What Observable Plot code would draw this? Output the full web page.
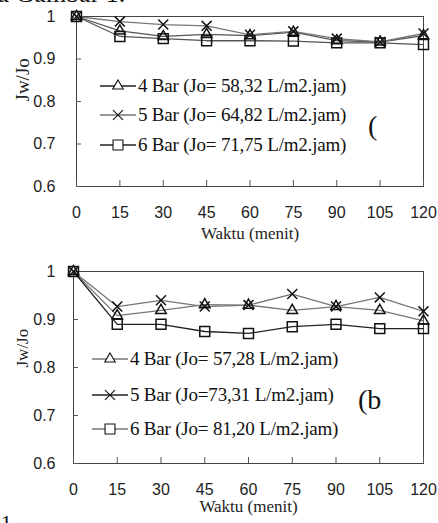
<!DOCTYPE html>
<html>
<head>
<meta charset="utf-8">
<script src="https://cdn.jsdelivr.net/npm/d3@7"></script>
<script src="https://cdn.jsdelivr.net/npm/@observablehq/plot@0.6"></script>
<style>
  html, body { margin: 0; padding: 0; background: #fff; width: 438px; height: 523px; overflow: hidden; }
  .panel { position: relative; width: 438px; }
  .panel svg.plot { display: block; }
  .legrow { position: absolute; display: flex; align-items: center; height: 24px; transform: translateY(-50%);
            font-family: "Liberation Serif", "Times New Roman", serif; font-size: 19px; color: #111; white-space: nowrap; letter-spacing: -0.2px; }
  .legrow svg { display: block; flex: none; }
  .note { position: absolute; font-family: "Liberation Serif", "Times New Roman", serif; color: #111; line-height: 1; white-space: nowrap; }
</style>
</head>
<body>
<div id="root" style="position:relative;width:438px;height:523px;overflow:hidden;"></div>
<script>
// ---- data ----
const minutes = [0, 15, 30, 45, 60, 75, 90, 105, 120];
const xTicks = [0, 15, 30, 45, 60, 75, 90, 105, 120];
const yTicks = [0.6, 0.7, 0.8, 0.9, 1];

const seriesNames = ["4 Bar", "5 Bar", "6 Bar"];
const seriesSymbols = ["triangle", "times", "square"];

// panel (a) – top
const topBar4 = [1, 0.966, 0.953, 0.958, 0.955, 0.963, 0.943, 0.940, 0.955];
const topBar5 = [1, 0.988, 0.981, 0.978, 0.957, 0.965, 0.948, 0.940, 0.960];
const topBar6 = [1, 0.953, 0.948, 0.943, 0.943, 0.942, 0.938, 0.938, 0.934];
const topLabels = ["4 Bar (Jo= 58,32 L/m2.jam)", "5 Bar (Jo= 64,82 L/m2.jam)", "6 Bar (Jo= 71,75 L/m2.jam)"];

// panel (b) – bottom
const botBar4 = [1, 0.908, 0.919, 0.931, 0.930, 0.919, 0.927, 0.919, 0.897];
const botBar5 = [1, 0.927, 0.940, 0.927, 0.930, 0.953, 0.927, 0.946, 0.917];
const botBar6 = [1, 0.890, 0.890, 0.875, 0.871, 0.885, 0.890, 0.881, 0.881];
const botLabels = ["4 Bar (Jo= 57,28 L/m2.jam)", "5 Bar (Jo=73,31 L/m2.jam)", "6 Bar (Jo= 81,20 L/m2.jam)"];

const xTitle = "Waktu (menit)";
const yTitle = "Jw/Jo";

// ---- styling ----
const serif = "'Liberation Serif', 'Times New Roman', serif";
const sans = "'Liberation Sans', Arial, sans-serif";
const symbolR = {triangle: 3.9, times: 4.6, square: 5.6};
const d3Sym = {triangle: d3.symbolTriangle, times: d3.symbolTimes, square: d3.symbolSquare};

function makeRows(vals) {
  return minutes.map((m, i) => ({minute: m, value: vals[i]}));
}

function panel(cfg) {
  const marks = [
    Plot.frame({stroke: "#444", strokeWidth: 1}),
    Plot.axisX({ticks: xTicks, tickSize: -6, fill: "none", stroke: "#555", label: null}),
    Plot.axisY({ticks: yTicks, tickSize: -5, fill: "none", stroke: "#555", label: null}),
    Plot.axisX({ticks: xTicks, tickSize: 0, tickPadding: cfg.xPad, label: null,
      fontFamily: sans, fontSize: 16, fill: "#222"}),
    Plot.axisY({ticks: yTicks, tickSize: 0, tickPadding: cfg.yPad, label: null,
      tickFormat: d => d === 1 ? "1" : d.toFixed(1),
      fontFamily: sans, fontSize: 16, fill: "#222"}),
    Plot.text([xTitle], {frameAnchor: "bottom", dy: cfg.xTitleDy, text: d => d,
      fontFamily: serif, fontSize: 17, fill: "#222"}),
    Plot.text([yTitle], {frameAnchor: "left", dx: cfg.yTitleDx, rotate: -90, text: d => d,
      fontFamily: serif, fontSize: cfg.yTitleSize, fill: "#222"})
  ];
  cfg.series.forEach((vals, k) => {
    const data = makeRows(vals);
    marks.push(Plot.line(data, {x: "minute", y: "value", stroke: cfg.lineColors[k], strokeWidth: 1.3}));
  });
  cfg.series.forEach((vals, k) => {
    const data = makeRows(vals);
    const sym = seriesSymbols[k];
    marks.push(Plot.dot(data, {x: "minute", y: "value", symbol: sym, r: symbolR[sym],
      stroke: "#111", fill: "none", strokeWidth: 1.5}));
  });
  const svg = Plot.plot({
    width: 438, height: cfg.height,
    marginTop: cfg.mt, marginBottom: cfg.mb, marginLeft: cfg.ml, marginRight: cfg.mr,
    x: {type: "linear", domain: [0, 120]},
    y: {type: "linear", domain: [0.6, 1]},
    style: {background: "transparent", overflow: "visible"},
    marks
  });
  svg.classList.add("plot");
  const div = document.createElement("div");
  div.className = "panel";
  div.style.height = cfg.height + "px";
  div.appendChild(svg);

  // legend
  cfg.labels.forEach((lab, k) => {
    const row = document.createElement("div");
    row.className = "legrow";
    row.style.left = cfg.leg.x + "px";
    row.style.top = cfg.leg.ys[k] + "px";
    const w = cfg.leg.w;
    const s = d3.select(row).append("svg").attr("width", w).attr("height", 20);
    s.append("line").attr("x1", 0).attr("x2", w).attr("y1", 10).attr("y2", 10)
      .attr("stroke", cfg.legColors[k]).attr("stroke-width", 1.3);
    const sym = seriesSymbols[k];
    const r = symbolR[sym];
    s.append("path").attr("transform", `translate(${w / 2},10)`)
      .attr("d", d3.symbol(d3Sym[sym], Math.PI * r * r)())
      .attr("fill", "white").attr("stroke", "#111").attr("stroke-width", 1.1);
    const span = document.createElement("span");
    span.textContent = lab;
    span.style.marginLeft = "2px";
    row.appendChild(span);
    div.appendChild(row);
  });
  const tag = document.createElement("div");
  tag.className = "note";
  tag.textContent = cfg.tag.text;
  tag.style.left = cfg.tag.x + "px";
  tag.style.top = cfg.tag.y + "px";
  tag.style.fontSize = cfg.tag.size + "px";
  div.appendChild(tag);
  return div;
}

const root = document.getElementById("root");

root.appendChild(panel({
  height: 260, mt: 16, mb: 74, ml: 76, mr: 15,
  xPad: 20, yPad: 21, xTitleDy: 52, yTitleDx: -54, yTitleSize: 19,
  series: [topBar4, topBar5, topBar6],
  lineColors: ["#555", "#777", "#555"],
  legColors: ["#222", "#777", "#222"],
  labels: topLabels,
  leg: {x: 100, w: 36, ys: [86, 115, 145]},
  tag: {text: "(", x: 368, y: 112, size: 28}
}));

root.appendChild(panel({
  height: 263, mt: 11, mb: 60, ml: 73, mr: 15,
  xPad: 20, yPad: 18, xTitleDy: 48, yTitleDx: -51, yTitleSize: 17,
  series: [botBar4, botBar5, botBar6],
  lineColors: ["#777", "#777", "#222"],
  legColors: ["#777", "#222", "#777"],
  labels: botLabels,
  leg: {x: 92, w: 36, ys: [99, 135, 169]},
  tag: {text: "(b", x: 358, y: 126, size: 28}
}));

const cap = document.createElement("div");
cap.className = "note";
cap.textContent = "pada Gambar 1.";
cap.style.fontSize = "26px";
cap.style.left = "-40px";
cap.style.top = "-19px";
root.appendChild(cap);

const foot = document.createElement("div");
foot.className = "note";
foot.textContent = "a1";
foot.style.fontSize = "22px";
foot.style.left = "-9px";
foot.style.top = "512px";
root.appendChild(foot);
</script>
</body>
</html>
